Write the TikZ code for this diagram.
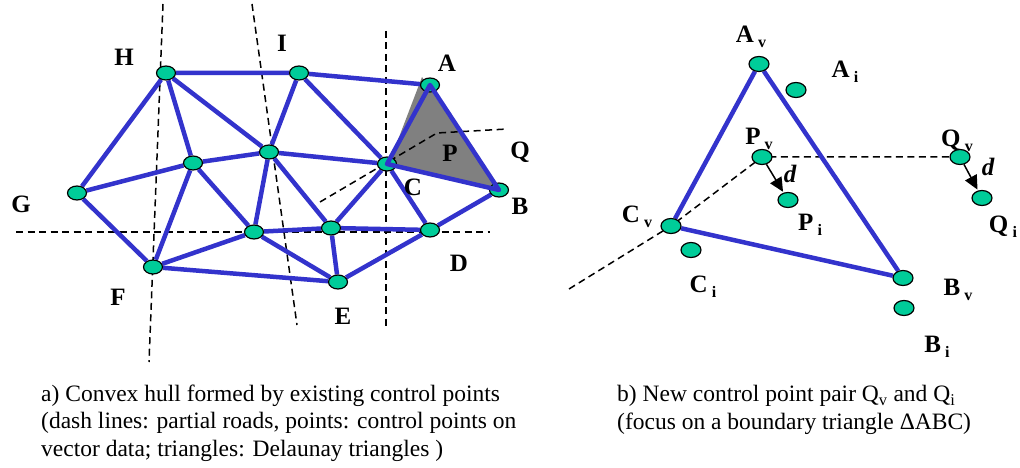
\documentclass[tikz,border=0pt]{standalone}
\usepackage{fontspec}
\setmainfont{Liberation Serif}
\usetikzlibrary{arrows.meta,shapes.geometric,backgrounds}
\definecolor{CPgreen}{RGB}{0,204,153}
\definecolor{CPblue}{RGB}{51,51,204}
\definecolor{CPgray}{RGB}{128,128,128}
\newcommand{\vlbl}[2]{#1\,\raisebox{-0.4ex}{\fontsize{16}{16}\selectfont #2}}
\tikzset{
  cp/.style={ellipse,draw=black,line width=1.2pt,fill=CPgreen,
             minimum width=19pt,minimum height=14pt,inner sep=0pt},
  cpb/.style={cp,minimum width=20pt,minimum height=15pt},
  tri/.style={draw=CPblue,line width=4.5pt,line join=round},
  road/.style={draw=black,line width=1.5pt,dash pattern=on 7pt off 4.5pt},
  lbl/.style={font=\fontsize{25}{25}\selectfont\bfseries,inner sep=0pt},
  shiftarr/.style={-{Triangle[length=14pt,width=13pt]},line width=1.5pt,shorten >=1pt},
  captxt/.style={font=\fontsize{23.5}{27.5}\selectfont,align=left,inner sep=0pt,anchor=base west}
}

\begin{document}
\begin{tikzpicture}[x=1pt,y=-1pt]
  \useasboundingbox (0,0) rectangle (1020,468);

  % a) control points
  \node[cp] (aH) at (166,73) {};
  \node[cp] (aI) at (299,73) {};
  \node[cp] (aA) at (430,85) {};
  \node[cp] (aJ) at (193,163) {};
  \node[cp] (aK) at (269,152) {};
  \node[cp] (aC) at (387,164) {};
  \node[cp] (aG) at (77,193) {};
  \node[cp] (aB) at (499,190) {};
  \node[cp] (aL) at (254,232) {};
  \node[cp] (aM) at (331,228) {};
  \node[cp] (aD) at (430,230) {};
  \node[cp] (aF) at (153,267) {};
  \node[cp] (aE) at (338,282) {};

  \begin{scope}[on background layer]
    % roads
    \draw[road] (163,4) -- (149,362);
    \draw[road] (252,4) -- (297,325);
    \draw[road] (386,31) -- (386,326);
    \draw[road] (16,232) -- (490,232);
    % boundary triangle
    \fill[CPgray] (422,77) -- (388,166) -- (497,189) -- cycle;
    \draw[road] (320,202) -- (437,133) -- (507,129);
    % Delaunay triangles
    \draw[tri] (aG) -- (aH) -- (aI) -- (aA);
    \draw[tri] (aG) -- (aF) -- (aE) -- (aD) -- (aB);
    \draw[tri] (aH) -- (aJ) -- (aL) -- (aM) -- (aD) -- (aC) -- (aI) -- (aK) -- (aH);
    \draw[tri] (aG) -- (aJ) -- (aK) -- (aC) -- (aM) -- (aE) -- (aL) -- (aF) -- (aJ);
    \draw[tri] (aK) -- (aL);
    \draw[tri] (aK) -- (aM);
  \end{scope}
  \draw[tri] (aA.center) -- (aB.center) -- (aC.center) -- cycle;

  \node[lbl] (lH) at (124,57) {H};
  \node[lbl] (lI) at (282,43) {I};
  \node[lbl] (lA) at (447,63) {A};
  \node[lbl] (lG) at (21,204) {G};
  \node[lbl] (lC) at (413,187) {C};
  \node[lbl] (lP) at (450,153) {P};
  \node[lbl] (lQ) at (520,152) {Q};
  \node[lbl] (lB) at (520,206) {B};
  \node[lbl] (lD) at (459,263) {D};
  \node[lbl] (lF) at (118,297) {F};
  \node[lbl] (lE) at (343,316) {E};

  % b) one boundary triangle
  \node[cpb] (bAv) at (759,64) {};
  \node[cpb] (bAi) at (796,90) {};
  \node[cpb] (bPv) at (762,157) {};
  \node[cpb] (bQv) at (960,157) {};
  \node[cpb] (bPi) at (788,200) {};
  \node[cpb] (bQi) at (982,198) {};
  \node[cpb] (bCv) at (671,226) {};
  \node[cpb] (bCi) at (691,250) {};
  \node[cpb] (bBv) at (903,278) {};
  \node[cpb] (bBi) at (904,308) {};
  \coordinate (bRoad) at (569,289);

  \begin{scope}[on background layer]
    \draw[road] (bRoad) -- (bCv.center) -- (bPv.center) -- (bQv);
    \draw[tri] (bCv) -- (bAv) -- (bBv) -- (bCv);
  \end{scope}
  \draw[shiftarr] (bPv) -- (bPi);
  \draw[shiftarr] (bQv) -- (bQi);

  \node[lbl] (lAv) at (751,37) {\vlbl{A}{v}};
  \node[lbl] (lAi) at (845,72) {\vlbl{A}{i}};
  \node[lbl] (lPv) at (759,139) {\vlbl{P}{v}};
  \node[lbl] (lQv) at (957,141) {\vlbl{Q}{v}};
  \node[lbl] (lPi) at (810,225) {\vlbl{P}{i}};
  \node[lbl] (lQi) at (1003,227) {\vlbl{Q}{i}};
  \node[lbl] (lCv) at (637,217) {\vlbl{C}{v}};
  \node[lbl] (lCi) at (703,287) {\vlbl{C}{i}};
  \node[lbl] (lBv) at (958,290) {\vlbl{B}{v}};
  \node[lbl] (lBi) at (937,347) {\vlbl{B}{i}};
  \node[lbl,font=\fontsize{25}{25}\selectfont\bfseries\itshape] (ld1) at (790,174) {d};
  \node[lbl,font=\fontsize{25}{25}\selectfont\bfseries\itshape] (ld2) at (988,167) {d};

  % captions (base = last line)
  \node[captxt] (capa) at (41,456) {a) Convex hull formed by existing control points\\
    (dash lines: partial roads, points: control points on\\
    vector data; triangles: Delaunay triangles )};
  \node[captxt] (capb) at (617,429) {b) New control point pair Q\textsubscript{v} and Q\textsubscript{i}\\
    (focus on a boundary triangle ΔABC)};
\end{tikzpicture}
\end{document}
